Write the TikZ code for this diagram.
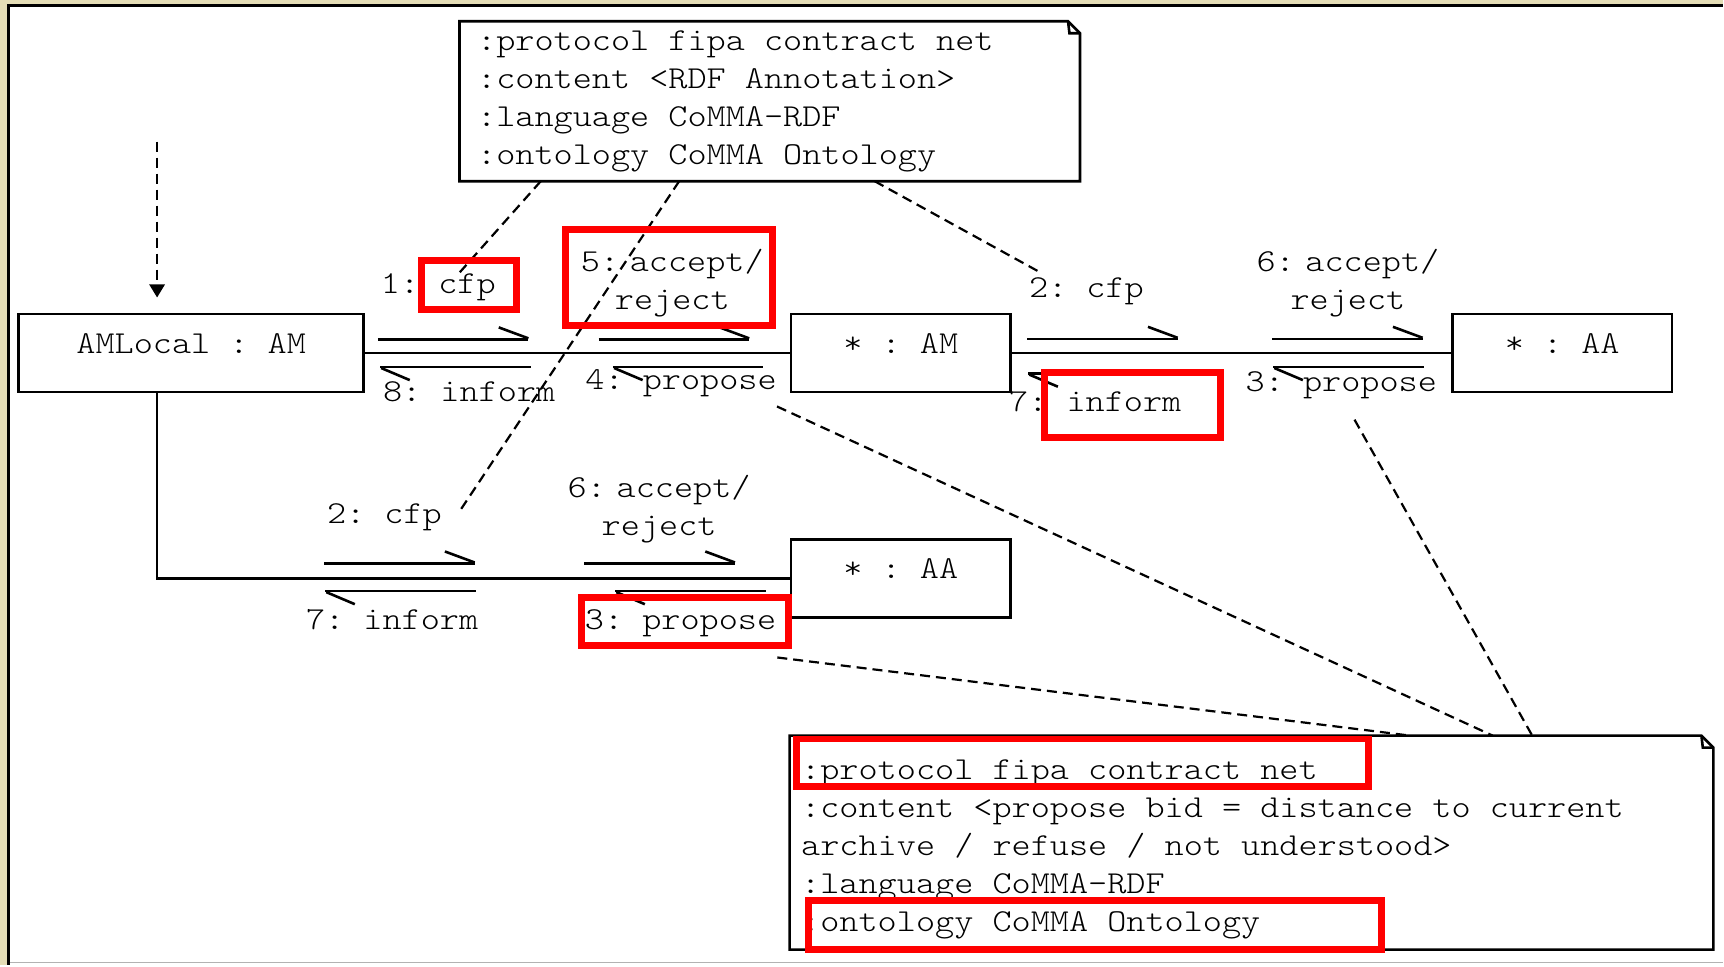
\documentclass[tikz,border=0pt]{standalone}
\usepackage{fontspec}
\setmainfont{lmmonolt10-regular.otf}[FakeStretch=1.14]
\usetikzlibrary{arrows.meta,calc}
\frenchspacing
\definecolor{beige}{RGB}{228,221,182}
\definecolor{hilite}{RGB}{255,0,0}
\tikzset{
  obj/.style={draw, line width=1.3pt, fill=white, rectangle, inner sep=0pt,
    text height=9pt, text depth=9pt},
  objwide/.style={obj, minimum width=172.7pt, minimum height=39.05pt},
  objstd/.style={obj, minimum width=110pt, minimum height=39.05pt},
  lbl/.style={inner sep=0pt, anchor=base},
  lbltwo/.style={inner sep=0pt, anchor=base, text width=110pt, align=center},
  conn/.style={line width=1.3pt},
  msg/.style={line width=1.3pt},
  ddash/.style={line width=1.1pt, dash pattern=on 5pt off 3pt},
  hl/.style={draw=hilite, line width=3.5pt},
  noteframe/.style={rectangle, inner sep=0pt},
  notel/.style={line width=1.3pt, line join=miter},
  notetext/.style={inner sep=0pt, anchor=base west, align=flush left},
  msgR/.pic={\draw[msg] (0,0) -- (137,0); \draw[msg] (137,-1) -- (110,-11);},
  msgL/.pic={\draw[msg] (0,0) -- (137,0); \draw[msg] (1,1) -- (27,12);}
}
\begin{document}
\begin{tikzpicture}[x=0.55pt,y=-0.55pt, font=\fontsize{16}{19}\selectfont]
% background panel
\fill[beige] (0,0) rectangle (1568,878);
\fill[white] (8,5) rectangle (1568,878);
\draw[line width=1.5pt] (7.7,878) -- (7.7,5) -- (1568,5);
\draw[gray!60, line width=0.5pt] (9,876.5) -- (1568,876.5);
\useasboundingbox (0,0) rectangle (1568,878);

% notes
\node[noteframe, minimum width=310.3pt, minimum height=79.7pt] (topnote) at (700.7,92.15) {};
\draw[notel] (topnote.south west) -- (topnote.north west) -- ([xshift=-6pt]topnote.north east)
  -- ([yshift=-6pt]topnote.north east) -- (topnote.south east) -- cycle;
\draw[notel] ([xshift=-6pt]topnote.north east) -- ([xshift=-5.3pt,yshift=-6pt]topnote.north east)
  -- ([yshift=-6pt]topnote.north east);
\node[notetext, text width=296pt] (topnotetext) at (434,46)
  {:protocol fipa contract net\\:content <RDF Annotation>\\:language CoMMA-RDF\\:ontology CoMMA Ontology};

\node[noteframe, minimum width=462.1pt, minimum height=106.7pt] (botnote) at (1139.25,767) {};
\draw[notel] (botnote.south west) -- (botnote.north west) -- ([xshift=-6pt]botnote.north east)
  -- ([yshift=-6pt]botnote.north east) -- (botnote.south east) -- cycle;
\draw[notel] ([xshift=-6pt]botnote.north east) -- ([xshift=-5.3pt,yshift=-6pt]botnote.north east)
  -- ([yshift=-6pt]botnote.north east);
\node[notetext, text width=456pt] (botnotetext) at (729,709.5)
  {:protocol fipa contract net\\:content <propose bid = distance to current\\archive / refuse / not understood>\\:language CoMMA-RDF\\:ontology CoMMA Ontology};

% objects
\node[objwide] (AMLocal) at (174,321.5) {AMLocal : AM};
\node[objstd] (midAM) at (820,321.5) {* : AM};
\node[objstd] (rightAA) at (1422,321.5) {* : AA};
\node[objstd] (lowAA) at (820,526.5) {* : AA};

% links
\coordinate (trig) at (143,129);
\draw[ddash, -{Triangle[length=6.6pt,width=7.7pt]}, shorten >=7.7pt] (trig) -- (trig |- AMLocal.north);
\draw[conn] (AMLocal) -- (midAM);
\draw[conn] (midAM) -- (rightAA);
\draw[conn] (trig |- AMLocal.south) |- (lowAA.west);

% message arrows
\pic at (344,309) {msgR};
\pic at (545,309) {msgR};
\pic at (346,334) {msgL};
\pic at (558,334) {msgL};
\pic at (935,308.5) {msgR};
\pic at (1158,308.5) {msgR};
\pic at (936,340) {msgL};
\pic at (1159,334) {msgL};
\pic at (295,513) {msgR};
\pic at (532,513) {msgR};
\pic at (296,538) {msgL};
\pic at (560,538) {msgL};

% message labels
\node[lbl] (m1) at (399,267) {1: cfp};
\node[lbltwo] (m5) at (612,247) {5: accept/\\reject};
\node[lbl] (m8) at (427,365.3) {8: inform};
\node[lbl] (m4) at (620,355) {4: propose};
\node[lbl] (m2) at (989,270.4) {2: cfp};
\node[lbltwo] (m6) at (1227,247) {6: accept/\\reject};
\node[lbl] (m7) at (997,374.4) {7: inform};
\node[lbl] (m3) at (1221,356) {3: propose};
\node[lbl] (n2) at (350,476.6) {2: cfp};
\node[lbltwo] (n6) at (600,453.2) {6: accept/\\reject};
\node[lbl] (n7) at (357,573) {7: inform};
\node[lbl] (n3) at (619.5,573) {3: propose};

% dashed annotation links
\coordinate (e1) at (418,248.5);
\coordinate (e2) at (418,466);
\coordinate (e3) at (947,248);
\coordinate (s4) at (707.3,370);
\coordinate (s5) at (1233,382);
\coordinate (s6) at (707.6,598.5);
\draw[ddash] ($(topnote.south west)+(74,0)$) -- (e1);
\draw[ddash] ($(topnote.south west)+(200,0)$) -- (e2);
\draw[ddash] ($(topnote.south west)+(378,0)$) -- (e3);
\draw[ddash] (s4) -- ($(botnote.north west)+(640,0)$);
\draw[ddash] (s5) -- ($(botnote.north west)+(676,0)$);
\draw[ddash] (s6) -- ($(botnote.north west)+(565,0)$);

% red highlights
\draw[hl] (383.5,237.5) rectangle (470.5,281.5);
\draw[hl] (515,209) rectangle (703.5,296);
\draw[hl] (950.5,339.5) rectangle (1111,398);
\draw[hl] (529.4,543.7) rectangle (718.2,587.9);
\draw[hl] (724.7,672.7) rectangle (1245.4,715.8);
\draw[hl] (736.2,820) rectangle (1257.4,864);
\end{tikzpicture}
\end{document}
